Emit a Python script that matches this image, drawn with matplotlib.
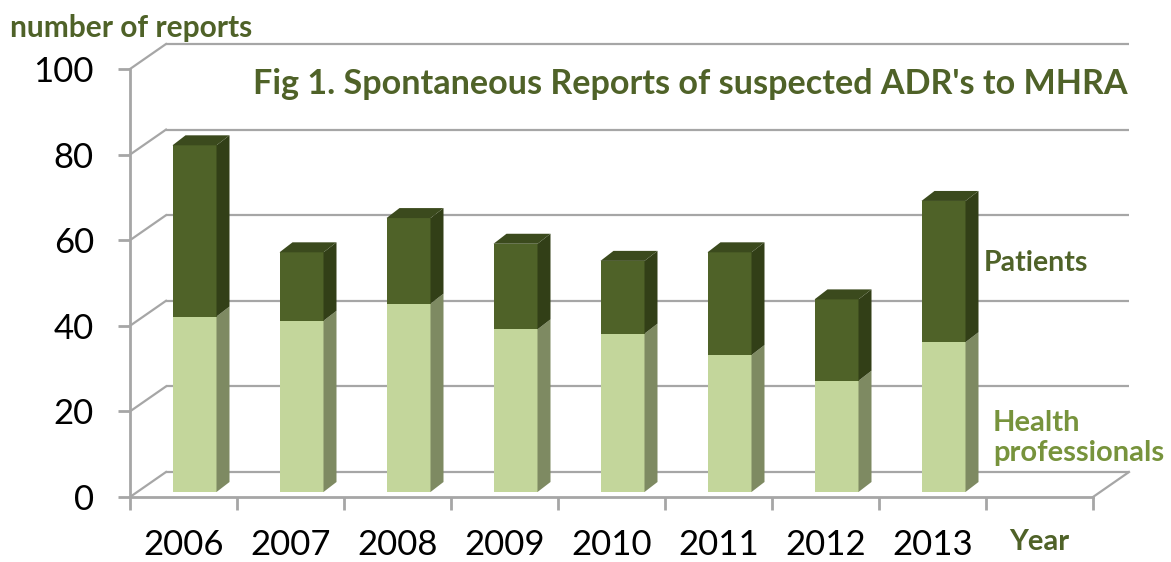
import matplotlib
matplotlib.use("Agg")
import matplotlib.pyplot as plt
from matplotlib.patches import Polygon

# ---- data ----
years = ["2006", "2007", "2008", "2009", "2010", "2011", "2012", "2013"]
health_professionals = [41, 40, 44, 38, 37, 32, 26, 35]
patients = [40, 16, 20, 20, 17, 24, 19, 33]
y_ticks = [0, 20, 40, 60, 80, 100]

title = "Fig 1. Spontaneous Reports of suspected ADR's to MHRA"
ylabel = "number of reports"
xlabel = "Year"

# ---- style ----
FONT = "Lato"
DARK_TXT = "#4f6228"
LIGHT_TXT = "#77933c"
GRID = "#a6a6a6"
C_LIGHT = "#c3d69b"
C_LIGHT_SIDE = "#7e8a62"
C_DARK = "#4f6228"
C_DARK_SIDE = "#323f17"
C_DARK_TOP = "#3b4a1d"

W, H = 1171, 562
fig = plt.figure(figsize=(W / 100, H / 100), dpi=100)
# axes: x 0..9 -> px 130..1093, y 0..100 -> px 497..69
ax_l, ax_r, ax_b, ax_t = 130, 1093, 497, 69
ax = fig.add_axes([ax_l / W, 1 - ax_b / H, (ax_r - ax_l) / W, (ax_b - ax_t) / H])
nslots = len(years) + 1
ax.set_xlim(0, nslots)
ax.set_ylim(0, 100)
px_x = nslots / (ax_r - ax_l)      # data units per pixel (x)
px_y = 100 / (ax_b - ax_t)         # data units per pixel (y)

# wall depth offset
wdx, wdy = 36 * px_x, 25 * px_y
# bar placement offset (depth) and bar side depth
bdx, bdy = 7 * px_x, 5 * px_y
sdx, sdy = 13 * px_x, 10 * px_y
bar_w = 44 * px_x

# back wall grid + left wall diagonals
for v in y_ticks:
    ax.plot([wdx, nslots + wdx], [v + wdy, v + wdy], color=GRID, lw=1.6,
            zorder=1, clip_on=False, solid_capstyle="butt")
    ax.plot([0, wdx], [v, v + wdy], color=GRID, lw=1.6, zorder=1, clip_on=False)
# floor right edge
ax.plot([nslots, nslots + wdx], [0, wdy], color=GRID, lw=1.6, zorder=1, clip_on=False)


def box(x0, bottom, height, front, side, top=None):
    x1 = x0 + bar_w
    b = bottom
    t = bottom + height
    ax.add_patch(Polygon([(x0, b), (x1, b), (x1, t), (x0, t)], closed=True,
                         facecolor=front, edgecolor="none", zorder=3, clip_on=False))
    ax.add_patch(Polygon([(x1, b), (x1 + sdx, b + sdy), (x1 + sdx, t + sdy), (x1, t)],
                         closed=True, facecolor=side, edgecolor="none", zorder=3,
                         clip_on=False))
    if top is not None:
        ax.add_patch(Polygon([(x0, t), (x1, t), (x1 + sdx, t + sdy), (x0 + sdx, t + sdy)],
                             closed=True, facecolor=top, edgecolor="none", zorder=3,
                             clip_on=False))


for i, (hp, pt) in enumerate(zip(health_professionals, patients)):
    x0 = i + 0.5 - bar_w / 2 + bdx + 4 * px_x
    box(x0, bdy, hp, C_LIGHT, C_LIGHT_SIDE)
    box(x0, bdy + hp, pt, C_DARK, C_DARK_SIDE, C_DARK_TOP)

# axes styling
for s in ["top", "right"]:
    ax.spines[s].set_visible(False)
for s in ["left", "bottom"]:
    ax.spines[s].set_color(GRID)
    ax.spines[s].set_linewidth(2)
ax.set_yticks(y_ticks)
ax.set_yticklabels([str(v) for v in y_ticks], fontsize=25, family=FONT)
ax.tick_params(axis="y", length=9, width=2, color=GRID, pad=17)
ax.set_xticks(range(nslots + 1), minor=True)
ax.set_xticks([i + 0.5 for i in range(nslots)])
ax.set_xticklabels(years + [xlabel], fontsize=25, family=FONT)
ax.tick_params(axis="x", which="major", length=0, pad=23)
ax.tick_params(axis="x", which="minor", length=9, width=2, color=GRID)
lab = ax.get_xticklabels()[-1]
lab.set_fontsize(21)
lab.set_fontweight("bold")
lab.set_color(DARK_TXT)

# texts
fig.text(10 / W, 1 - 28 / H, ylabel, fontsize=21.5, fontweight="bold", color=DARK_TXT,
         family=FONT, ha="left", va="center")
fig.text(1128 / W, 1 - 84 / H, title, fontsize=24.6, fontweight="bold", color=DARK_TXT,
         family=FONT, ha="right", va="center")
fig.text(984 / W, 1 - 263 / H, "Patients", fontsize=20.5, fontweight="bold", color=DARK_TXT,
         family=FONT, ha="left", va="center")
fig.text(993 / W, 1 - 438 / H, "Health\nprofessionals", fontsize=21, fontweight="bold",
         color=LIGHT_TXT, family=FONT, ha="left", va="center", linespacing=1.15)

fig.savefig("out.png", dpi=100)
